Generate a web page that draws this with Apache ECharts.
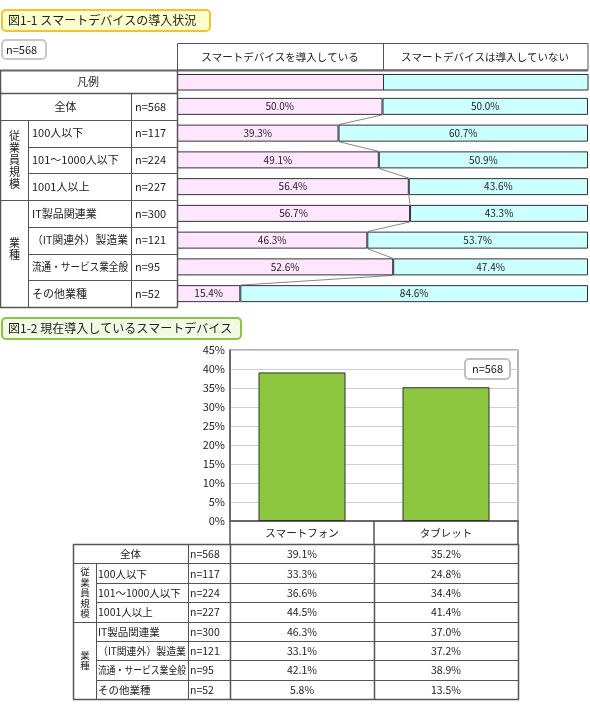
<!DOCTYPE html>
<html><head><meta charset="utf-8">
<script src="https://cdn.jsdelivr.net/npm/echarts@6/dist/echarts.min.js"></script>
<style>html,body{margin:0;padding:0;background:#fff}#c{width:590px;height:709px}</style>
</head><body><div id="c"></div>
<script>
// ---- data ----
const title1 = '図1-1 スマートデバイスの導入状況';
const title2 = '図1-2 現在導入しているスマートデバイス';
const totalN = 'n=568';
const legendLabel = '凡例';
const rowLabels = ['全体','100人以下','101〜1000人以下','1001人以上','IT製品関連業','（IT関連外）製造業','流通・サービス業全般','その他業種'];
const rowN = ['n=568','n=117','n=224','n=227','n=300','n=121','n=95','n=52'];
const groupLabels = ['従業員規模','業種'];
const groupRows = [[1,3],[4,7]];
const seriesNames = ['スマートデバイスを導入している','スマートデバイスは導入していない'];
const adopted = [50.0,39.3,49.1,56.4,56.7,46.3,52.6,15.4];
const notAdopted = [50.0,60.7,50.9,43.6,43.3,53.7,47.4,84.6];
const devices = ['スマートフォン','タブレット'];
const deviceTotal = [39.1,35.2];
const smartphoneByRow = [39.1,33.3,36.6,44.5,46.3,33.1,42.1,5.8];
const tabletByRow = [35.2,24.8,34.4,41.4,37.0,37.2,38.9,13.5];
const yMax = 45, yStep = 5;

// ---- style/layout ----
const FONT = "'Noto Sans CJK JP', sans-serif";
const PINK = '#FFE6FF', CYAN = '#CCFFFF', GREEN = '#8DC63F';
const LINE = '#555';
const T1 = {top:93, h:214, left:177, right:588, colG:28, colN:131};
const rowH = T1.h / 8;
const B = {left:230, right:518, top:350, bottom:521, tTop:544, tBot:699, x0:73, colG:96, colN:188, colMid:374};
const rowH2 = (B.tBot - B.tTop) / 8;

const mctx = document.createElement('canvas').getContext('2d');
function measure(t,size){ mctx.font = size+'px '+FONT; return mctx.measureText(t).width; }

const g = [];
function ln(x1,y1,x2,y2,w,c){ g.push({type:'line',silent:true,z:50,shape:{x1,y1,x2,y2},style:{stroke:c||LINE,lineWidth:w||1}}); }
function tx(t,x,y,opt){
  opt=opt||{};
  const size = opt.size||11;
  const el = {type:'text',silent:true,z:60,x,y,style:Object.assign({text:t,fill:'#222',font:size+'px '+FONT,textAlign:opt.align||'left',textVerticalAlign:'middle'},opt.style||{})};
  if(opt.maxW){ const w = measure(t,size); if(w>opt.maxW){ el.scaleX = opt.maxW/w; } }
  g.push(el);
}
function rc(x,y,w,h,fill,stroke,lw,r){ g.push({type:'rect',silent:true,z:40,shape:{x,y,width:w,height:h,r:r||0},style:{fill,stroke,lineWidth:lw||1}}); }

// titles
rc(2,10,208,21,'#FFFFCC','#F2C230',2,4);
tx(title1,8,20.5,{size:12,maxW:196});
rc(2,40,44,19,'#fff','#c8c8c8',2,4);
tx(totalN,6,49.5,{size:11});
rc(2,318,239,21,'#F2FAE4','#8CC63F',2,4);
tx(title2,8,328.5,{size:12,maxW:228});

// header of top chart
rc(177.5,43.5,410.5,26.5,'#fff',LINE,1);
ln(383.5,43.5,383.5,70,1);
tx(seriesNames[0],280,57,{size:10.5,align:'center'});
tx(seriesNames[1],485,57,{size:10.5,align:'center'});
// legend row
ln(0,70.5,T1.right,70.5,2,'#666');
rc(177.5,74.5,206,15.5,PINK,'#333',1);
rc(383.5,74.5,204.5,15.5,CYAN,'#333',1);
tx(legendLabel,88,82,{align:'center'});

// left table of top chart
const yr = i => Math.round(T1.top + i*rowH) + 0.5;
ln(0.5,70,0.5,307.5,1.5); ln(177.5,70,177.5,307.5,1.5);
ln(T1.colN+0.5,93,T1.colN+0.5,307.5,1);
ln(T1.colG+0.5,yr(1),T1.colG+0.5,307.5,1);
for(let i=0;i<=8;i++){
  const full = (i<=1 || i===4 || i===8);
  ln(full?0:T1.colG,yr(i),177.5,yr(i),i===0||i===8?1.5:1);
}
rowLabels.forEach((t,i)=>{
  const yc = T1.top + (i+0.5)*rowH;
  if(i===0) tx(t,T1.colN/2,yc,{align:'center'}); else tx(t,T1.colG+4,yc,{maxW:T1.colN-T1.colG-7});
  tx(rowN[i],T1.colN+4,yc);
});
groupLabels.forEach((t,k)=>{
  const [a,b] = groupRows[k];
  const yc = T1.top + ((a+b+1)/2)*rowH - (k===1?5:0);
  tx(t.split('').join('\n'),T1.colG/2+0.5,yc,{align:'center',style:{lineHeight:12}});
});

// bottom table
const yr2 = i => Math.round(B.tTop + i*rowH2) + 0.5;
ln(B.x0+0.5,B.tTop,B.x0+0.5,B.tBot+0.5,1.5);
ln(B.colG+0.5,yr2(1),B.colG+0.5,B.tBot+0.5,1);
ln(B.colN+0.5,B.tTop,B.colN+0.5,B.tBot+0.5,1);
ln(B.left+0.5,B.tTop,B.left+0.5,B.tBot+0.5,1.5);
ln(B.colMid+0.5,B.tTop,B.colMid+0.5,B.tBot+0.5,1.5);
ln(B.right+0.5,B.tTop,B.right+0.5,B.tBot+0.5,1.5);
for(let i=0;i<=8;i++){
  const full = (i<=1 || i===4 || i===8);
  ln(full?B.x0:B.colG,yr2(i),B.right+1,yr2(i),i===0||i===8?1.5:1);
}
rowLabels.forEach((t,i)=>{
  const yc = B.tTop + (i+0.5)*rowH2 + 0.5;
  if(i===0) tx(t,(B.x0+B.colN)/2,yc,{align:'center',size:10.5}); else tx(t,B.colG+2,yc,{size:10.5,maxW:B.colN-B.colG-4});
  tx(rowN[i],B.colN+2,yc,{size:10.5});
  tx(smartphoneByRow[i].toFixed(1)+'%',(B.left+B.colMid)/2,yc,{align:'center',size:10.5});
  tx(tabletByRow[i].toFixed(1)+'%',(B.colMid+B.right)/2,yc,{align:'center',size:10.5});
});
groupLabels.forEach((t,k)=>{
  const [a,b] = groupRows[k];
  const yc = B.tTop + ((a+b+1)/2)*rowH2;
  tx(t.split('').join('\n'),(B.x0+B.colG)/2+0.5,yc,{align:'center',size:9.5,style:{lineHeight:10.5}});
});
// n box in bar chart
rc(465,359,45,20,'#fff','#c0c0c0',2,4);
tx(totalN,487.5,369,{align:'center',size:11});

// series lines data
const connectors = adopted.slice(1).map((v,i)=>[adopted[i], i, v, i+1]);
const BARW = 17;

const chart = echarts.init(document.getElementById('c'), null, {renderer:'canvas'});
chart.setOption({
  animation:false,
  textStyle:{fontFamily:FONT},
  grid:[
    {left:T1.left,top:T1.top,width:T1.right-T1.left,height:T1.h},
    {left:B.left,top:B.top,width:B.right-B.left,height:B.bottom-B.top,show:true,borderColor:'#666',borderWidth:1,backgroundColor:'transparent'}
  ],
  xAxis:[
    {gridIndex:0,type:'value',min:0,max:100,show:false},
    {gridIndex:1,type:'category',data:devices,
     axisLine:{lineStyle:{color:'#666',width:2}},
     axisTick:{show:true,length:23,lineStyle:{color:'#555',width:1.5}},
     axisLabel:{color:'#222',fontSize:10.5,margin:7,fontFamily:FONT}}
  ],
  yAxis:[
    {gridIndex:0,type:'category',data:rowLabels,inverse:true,show:false},
    {gridIndex:1,type:'value',min:0,max:yMax,interval:yStep,
     axisLine:{show:true,lineStyle:{color:'#555',width:1.5}},
     axisTick:{show:false},
     splitLine:{lineStyle:{color:'#cfcfcf'}},
     axisLabel:{formatter:'{value}%',color:'#222',fontSize:11,margin:5,fontFamily:FONT}}
  ],
  series:[
    {name:seriesNames[0],type:'bar',stack:'s',xAxisIndex:0,yAxisIndex:0,data:adopted,barWidth:BARW,
     itemStyle:{color:PINK,borderColor:'#333',borderWidth:1},
     label:{show:true,position:'inside',color:'#222',fontSize:10,formatter:p=>p.value.toFixed(1)+'%'}},
    {name:seriesNames[1],type:'bar',stack:'s',xAxisIndex:0,yAxisIndex:0,data:notAdopted,barWidth:BARW,
     itemStyle:{color:CYAN,borderColor:'#333',borderWidth:1},
     label:{show:true,position:'inside',color:'#222',fontSize:10,formatter:p=>p.value.toFixed(1)+'%'}},
    {type:'custom',xAxisIndex:0,yAxisIndex:0,data:connectors,z:1,silent:true,
     renderItem:(params,api)=>{
       const p1 = api.coord([api.value(0),api.value(1)]);
       const p2 = api.coord([api.value(2),api.value(3)]);
       return {type:'line',shape:{x1:p1[0],y1:p1[1]+BARW/2,x2:p2[0],y2:p2[1]-BARW/2},style:{stroke:'#888',lineWidth:1}};
     }},
    {type:'bar',xAxisIndex:1,yAxisIndex:1,data:deviceTotal,barWidth:87,
     itemStyle:{color:GREEN,borderColor:'#333',borderWidth:1}}
  ],
  graphic:g
});
</script></body></html>
